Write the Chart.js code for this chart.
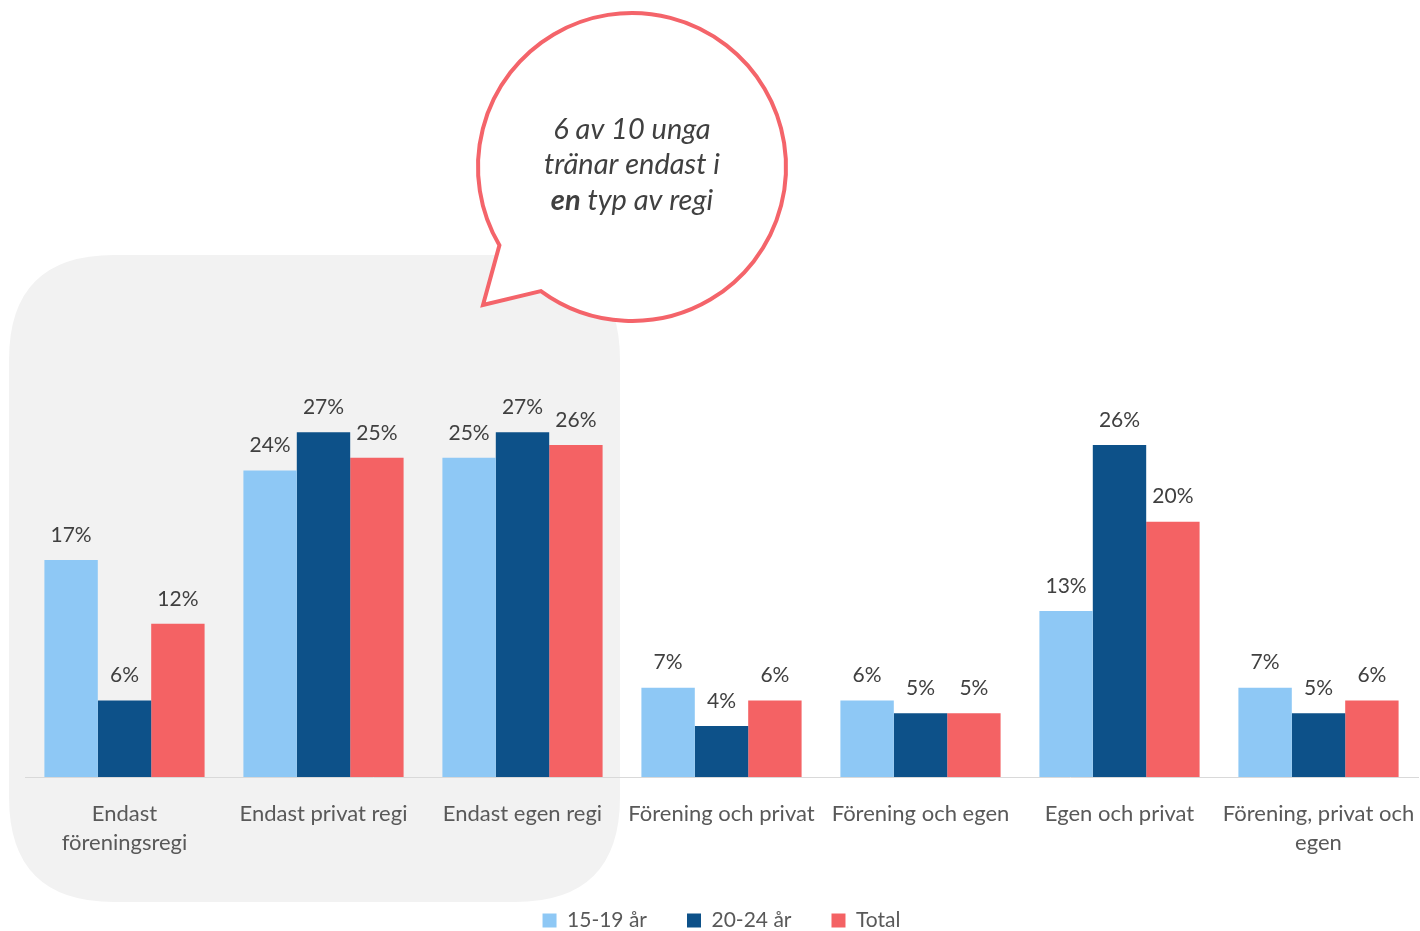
<!DOCTYPE html>
<html>
<head>
<meta charset="utf-8">
<script src="https://cdn.jsdelivr.net/npm/chart.js@4.4.0/dist/chart.umd.min.js"></script>
<style>
  html, body { margin: 0; padding: 0; background: #fff; }
  #wrap { width: 1420px; height: 931px; position: relative; }
</style>
</head>
<body>
<div id="wrap"><canvas id="chart" width="1420" height="931"></canvas></div>
<script>
const categories = [
  ['Endast', 'föreningsregi'],
  'Endast privat regi',
  'Endast egen regi',
  'Förening och privat',
  'Förening och egen',
  'Egen och privat',
  ['Förening, privat och', 'egen']
];
const young = [17, 24, 25, 7, 6, 13, 7];
const older = [6, 27, 27, 4, 5, 26, 5];
const total = [12, 25, 26, 6, 5, 20, 6];
const seriesNames = ['15-19 år', '20-24 år', 'Total'];

const LIGHT = '#8ec8f5';
const DARK = '#0d5189';
const RED = '#f46264';

// gray rounded panel behind the first three groups
const panelPlugin = {
  id: 'panel',
  beforeDraw(chart) {
    const ctx = chart.ctx;
    const x = 9, y = 255, w = 611, h = 647, r = 105;
    ctx.save();
    ctx.fillStyle = '#f2f2f2';
    ctx.beginPath();
    ctx.moveTo(x + r, y);
    ctx.lineTo(x + w - r, y);
    ctx.quadraticCurveTo(x + w, y, x + w, y + r);
    ctx.lineTo(x + w, y + h - r);
    ctx.quadraticCurveTo(x + w, y + h, x + w - r, y + h);
    ctx.lineTo(x + r, y + h);
    ctx.quadraticCurveTo(x, y + h, x, y + h - r);
    ctx.lineTo(x, y + r);
    ctx.quadraticCurveTo(x, y, x + r, y);
    ctx.fill();
    ctx.restore();
  }
};

// percentage labels above bars
const valueLabels = {
  id: 'valueLabels',
  afterDatasetsDraw(chart) {
    const ctx = chart.ctx;
    ctx.save();
    ctx.font = '21px Lato';
    ctx.fillStyle = '#404040';
    ctx.textAlign = 'center';
    ctx.textBaseline = 'middle';
    chart.data.datasets.forEach((ds, i) => {
      chart.getDatasetMeta(i).data.forEach((bar, j) => {
        ctx.fillText(ds.data[j] + '%', bar.x, bar.y - 25);
      });
    });
    ctx.restore();
  }
};

// speech bubble callout
const bubblePlugin = {
  id: 'bubble',
  afterDraw(chart) {
    const ctx = chart.ctx;
    const cx = 632, cy = 167, rad = 154;
    const a1 = Math.atan2(245 - cy, 500 - cx);
    const a2 = Math.atan2(291 - cy, 541 - cx);
    ctx.save();
    ctx.beginPath();
    ctx.arc(cx, cy, rad, a1, a2 + Math.PI * 2, false);
    ctx.lineTo(483, 305);
    ctx.closePath();
    ctx.fillStyle = '#fff';
    ctx.fill();
    ctx.lineWidth = 4;
    ctx.strokeStyle = '#f4646a';
    ctx.lineJoin = 'miter';
    ctx.stroke();

    ctx.fillStyle = '#404040';
    ctx.textAlign = 'center';
    ctx.textBaseline = 'middle';
    const reg = 'italic 29px Lato';
    const bold = 'bold italic 29px Lato';
    ctx.font = reg;
    ctx.fillText('6 av 10 unga', cx, 130);
    ctx.fillText('tränar endast i', cx, 165);
    ctx.font = bold;
    const w1 = ctx.measureText('en').width;
    ctx.font = reg;
    const w2 = ctx.measureText(' typ av regi').width;
    const start = cx - (w1 + w2) / 2;
    ctx.textAlign = 'left';
    ctx.font = bold;
    ctx.fillText('en', start, 201);
    ctx.font = reg;
    ctx.fillText(' typ av regi', start + w1, 201);
    ctx.restore();
  }
};

new Chart(document.getElementById('chart'), {
  type: 'bar',
  data: {
    labels: categories,
    datasets: [
      { label: seriesNames[0], data: young, backgroundColor: LIGHT, borderWidth: 0 },
      { label: seriesNames[1], data: older, backgroundColor: DARK, borderWidth: 0 },
      { label: seriesNames[2], data: total, backgroundColor: RED, borderWidth: 0 }
    ]
  },
  options: {
    responsive: false,
    animation: false,
    datasets: { bar: { categoryPercentage: 0.805, barPercentage: 1 } },
    layout: { padding: { top: 394, left: 25, right: 2, bottom: -10 } },
    scales: {
      y: { display: false, min: 0, max: 30 },
      x: {
        grid: { display: false, drawTicks: false },
        border: { display: true, color: '#d9d9d9', width: 1 },
        ticks: { color: '#595959', font: { family: 'Lato', size: 22, lineHeight: 1.32 }, padding: 22, maxRotation: 0, autoSkip: false },
        afterFit: s => { s.height = 93; s.paddingLeft = 0; s.paddingRight = 0; }
      }
    },
    plugins: {
      legend: {
        position: 'bottom',
        labels: {
          color: '#595959',
          font: { family: 'Lato', size: 21 },
          boxWidth: 14,
          boxHeight: 14,
          padding: 40
        }
      },
      tooltip: { enabled: false }
    }
  },
  plugins: [panelPlugin, valueLabels, bubblePlugin]
});
</script>
</body>
</html>
